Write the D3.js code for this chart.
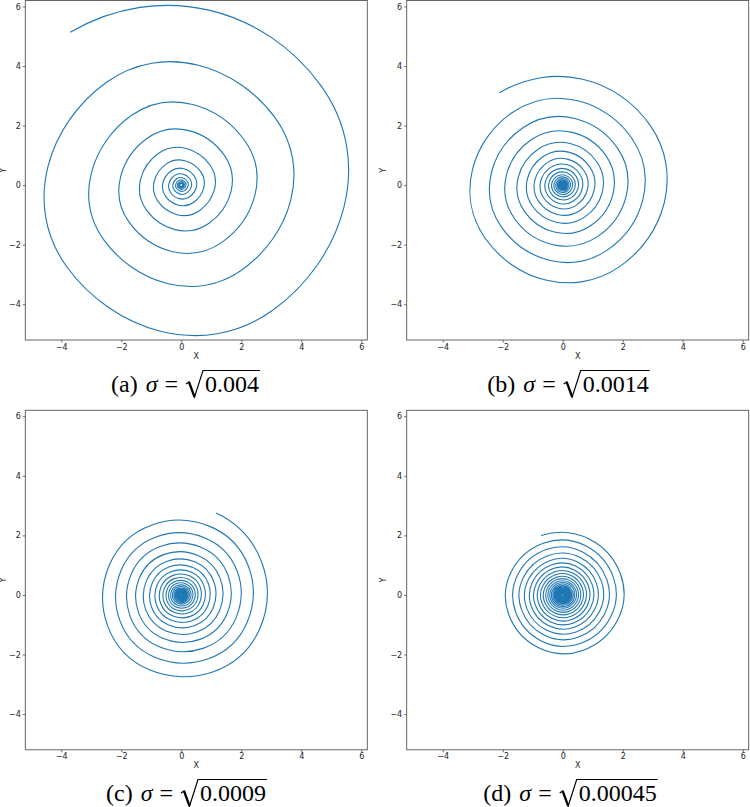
<!DOCTYPE html>
<html>
<head>
<meta charset="utf-8">
<script src="https://cdnjs.cloudflare.com/ajax/libs/d3/7.8.5/d3.min.js"></script>
<style>
body { margin: 0; background: #fff; }
</style>
</head>
<body>
<script>
// axis ticks and limits shared by all four panels
var tickValues = [-4, -2, 0, 2, 4, 6];
var axisDomain = [-5.2, 6.2];

var panelLetters = ["a", "b", "c", "d"];
var sigmaSq = ["0.004", "0.0014", "0.0009", "0.00045"];

// angle (deg) of the outer end of each spiral, then the radius read every quarter turn (clockwise, inward)
var startAngles = [125.8, 124.2, 67.1, 109.8];

var radiiA = [6.33, 5.73, 5.19, 4.70, 4.26, 3.86, 3.49, 3.17, 2.87, 2.59, 2.35, 2.14,
  1.94, 1.75, 1.58, 1.43, 1.31, 1.17, 1.05, 0.95, 0.87, 0.79, 0.71, 0.645,
  0.585, 0.53, 0.48, 0.435, 0.395, 0.355, 0.32, 0.29, 0.265, 0.24, 0.215, 0.195,
  0.178, 0.16, 0.145, 0.132, 0.12, 0.108, 0.098, 0.089, 0.08, 0.072, 0.066, 0.06,
  0.054, 0.049, 0.044, 0.04];

var radiiB = [3.75, 3.54, 3.33, 3.14, 2.96, 2.79, 2.64, 2.48, 2.34, 2.21, 2.08, 1.96,
  1.85, 1.75, 1.65, 1.55, 1.46, 1.38, 1.30, 1.23, 1.16, 1.09, 1.03, 0.97,
  0.914, 0.862, 0.812, 0.766, 0.722, 0.681, 0.642, 0.605, 0.571, 0.538, 0.507, 0.478,
  0.451, 0.425, 0.401, 0.378, 0.356, 0.336, 0.317, 0.299, 0.282, 0.266, 0.25, 0.236,
  0.223, 0.21, 0.198, 0.187, 0.176, 0.166, 0.156, 0.147, 0.139, 0.131, 0.124, 0.117,
  0.11, 0.104, 0.098, 0.092, 0.087, 0.082, 0.077, 0.073, 0.069, 0.065, 0.061, 0.058,
  0.054, 0.051, 0.048, 0.045, 0.043, 0.04, 0.038, 0.036, 0.034, 0.032, 0.03, 0.028,
  0.027, 0.025, 0.024, 0.022, 0.021, 0.02];

var radiiC = [2.985, 2.85, 2.73, 2.60, 2.49, 2.38, 2.27, 2.17, 2.07, 1.98, 1.89, 1.81,
  1.73, 1.65, 1.58, 1.51, 1.44, 1.38, 1.315, 1.257, 1.20, 1.147, 1.096, 1.048,
  1.0, 0.957, 0.914, 0.873, 0.834, 0.797, 0.762, 0.728, 0.696, 0.665, 0.635, 0.607,
  0.58, 0.554, 0.529, 0.506, 0.483, 0.462, 0.441, 0.422, 0.403, 0.385, 0.368, 0.351,
  0.336, 0.321, 0.306, 0.293, 0.28, 0.267, 0.255, 0.244, 0.233, 0.223, 0.213, 0.203,
  0.194, 0.186, 0.177, 0.169, 0.162, 0.155, 0.148, 0.141, 0.135, 0.129, 0.123, 0.118,
  0.112, 0.107, 0.103, 0.098, 0.094, 0.09, 0.086, 0.082, 0.078, 0.075, 0.071, 0.068,
  0.065, 0.062, 0.059, 0.057, 0.054, 0.052, 0.05, 0.047, 0.045, 0.043, 0.041, 0.04,
  0.038, 0.036, 0.035, 0.033, 0.032, 0.03, 0.029, 0.028, 0.026, 0.025];

var radiiD = [2.12, 2.05, 1.98, 1.915, 1.85, 1.79, 1.73, 1.67, 1.62, 1.56, 1.51, 1.46,
  1.41, 1.37, 1.32, 1.28, 1.23, 1.19, 1.15, 1.115, 1.078, 1.042, 1.007, 0.974,
  0.941, 0.91, 0.88, 0.85, 0.822, 0.795, 0.768, 0.743, 0.718, 0.694, 0.671, 0.649,
  0.627, 0.606, 0.586, 0.567, 0.548, 0.53, 0.512, 0.495, 0.479, 0.463, 0.447, 0.432,
  0.418, 0.404, 0.391, 0.378, 0.365, 0.353, 0.341, 0.33, 0.319, 0.308, 0.298, 0.288,
  0.279, 0.269, 0.26, 0.252, 0.243, 0.235, 0.227, 0.22, 0.212, 0.205, 0.198, 0.192,
  0.185, 0.179, 0.173, 0.168, 0.162, 0.157, 0.151, 0.146, 0.141, 0.137, 0.132, 0.128,
  0.124, 0.119, 0.115, 0.112, 0.108, 0.104, 0.101, 0.098, 0.094, 0.091, 0.088, 0.085,
  0.082, 0.08, 0.077, 0.074, 0.072, 0.069, 0.067, 0.065, 0.063, 0.061, 0.059, 0.057,
  0.055, 0.053, 0.051, 0.05, 0.048, 0.046, 0.045, 0.043, 0.042, 0.04, 0.039, 0.038,
  0.036, 0.035, 0.034, 0.033, 0.032, 0.031, 0.03];

var allRadii = [radiiA, radiiB, radiiC, radiiD];

// layout
var frameW = 342, frameH = 339.5;
var frames = [
  {left: 25.3, top: 0.5, capX: 185, capY: 392},
  {left: 406.7, top: 0.5, capX: 568, capY: 392},
  {left: 25.3, top: 410.3, capX: 186, capY: 801},
  {left: 406.7, top: 410.3, capX: 570, capY: 801}
];

// cardinal-style curve (tension tuned for quarter-turn spacing) whose end
// tangents mirror their neighbours instead of collapsing to zero
function spiralCurve(context) {
  var pts;
  function dist(a, b) {
    return Math.sqrt((b[0] - a[0]) * (b[0] - a[0]) + (b[1] - a[1]) * (b[1] - a[1]));
  }
  function mirror(t, a, b, s) {
    var l = dist(a, b) || 1, ux = (b[0] - a[0]) / l, uy = (b[1] - a[1]) / l;
    var dot = t[0] * ux + t[1] * uy;
    return [(2 * dot * ux - t[0]) * s, (2 * dot * uy - t[1]) * s];
  }
  return {
    areaStart: function() {},
    areaEnd: function() {},
    lineStart: function() { pts = []; },
    point: function(x, y) { pts.push([+x, +y]); },
    lineEnd: function() {
      var n = pts.length, k = 1.657 / 2, tan = [], i;
      if (!n) return;
      context.moveTo(pts[0][0], pts[0][1]);
      if (n < 3) { if (n === 2) context.lineTo(pts[1][0], pts[1][1]); return; }
      for (i = 1; i < n - 1; i++) {
        tan[i] = [k * (pts[i + 1][0] - pts[i - 1][0]), k * (pts[i + 1][1] - pts[i - 1][1])];
      }
      tan[0] = mirror(tan[1], pts[0], pts[1],
          dist(pts[0], pts[1]) / (dist(pts[1], pts[2]) || 1));
      tan[n - 1] = mirror(tan[n - 2], pts[n - 2], pts[n - 1],
          dist(pts[n - 2], pts[n - 1]) / (dist(pts[n - 3], pts[n - 2]) || 1));
      for (i = 0; i < n - 1; i++) {
        context.bezierCurveTo(
          pts[i][0] + tan[i][0] / 3, pts[i][1] + tan[i][1] / 3,
          pts[i + 1][0] - tan[i + 1][0] / 3, pts[i + 1][1] - tan[i + 1][1] / 3,
          pts[i + 1][0], pts[i + 1][1]);
      }
    }
  };
}

var svg = d3.select("body").append("svg")
    .attr("width", 750)
    .attr("height", 807)
    .style("background", "#fff");

frames.forEach(function(f, i) {
  var g = svg.append("g")
      .attr("transform", "translate(" + f.left + "," + f.top + ")");

  var x = d3.scaleLinear().domain(axisDomain).range([0, frameW]);
  var y = d3.scaleLinear().domain(axisDomain).range([frameH, 0]);

  var xAxis = g.append("g")
      .attr("transform", "translate(0," + frameH + ")")
      .call(d3.axisBottom(x).tickValues(tickValues).tickSize(2.5).tickPadding(1.5).tickSizeOuter(0));
  var yAxis = g.append("g")
      .call(d3.axisLeft(y).tickValues(tickValues).tickSize(2.5).tickPadding(2).tickSizeOuter(0));

  [xAxis, yAxis].forEach(function(a) {
    a.select(".domain").remove();
    a.selectAll("line").attr("stroke", "#444").attr("stroke-width", 0.8);
    a.selectAll("text")
      .attr("fill", "#222")
      .style("font-family", "DejaVu Sans, sans-serif")
      .style("font-size", "8px");
  });

  // spiral points from the read radii
  var pts = allRadii[i].map(function(r, k) {
    var a = (startAngles[i] - 90 * k) * Math.PI / 180;
    return {x: r * Math.cos(a), y: r * Math.sin(a)};
  });

  var line = d3.line()
      .x(function(d) { return x(d.x); })
      .y(function(d) { return y(d.y); })
      .curve(spiralCurve);

  g.append("path")
      .datum(pts)
      .attr("d", line)
      .attr("fill", "none")
      .attr("stroke", "#1f77b4")
      .attr("stroke-width", 1.1);

  g.append("rect")
      .attr("width", frameW)
      .attr("height", frameH)
      .attr("fill", "none")
      .attr("stroke", "#555")
      .attr("stroke-width", 0.9);

  g.append("text")
      .attr("x", frameW / 2)
      .attr("y", frameH + 18.5)
      .attr("text-anchor", "middle")
      .attr("fill", "#222")
      .style("font-family", "DejaVu Sans, sans-serif")
      .style("font-size", "8px")
      .text("X");

  g.append("text")
      .attr("transform", "translate(" + (i % 2 ? -20.5 : -19.5) + "," + (frameH / 2) + ") rotate(-90)")
      .attr("text-anchor", "middle")
      .attr("fill", "#222")
      .style("font-family", "DejaVu Sans, sans-serif")
      .style("font-size", "8px")
      .text("Y");

  // caption: (a) σ = √0.004
  var cap = svg.append("g");
  var cx = 0;
  function part(str, italic) {
    var t = cap.append("text")
        .attr("x", cx)
        .attr("y", 0)
        .attr("fill", "#000")
        .style("font-family", "Liberation Serif, serif")
        .style("font-size", "24px")
        .style("font-style", italic ? "italic" : "normal")
        .text(str);
    cx += t.node().getComputedTextLength();
  }
  part("(" + panelLetters[i] + ")");
  cx += 8;
  part("\u03c3", true);
  cx += 7;
  part("=");
  cx += 7;
  var rx = cx;
  cx += 20;
  part(sigmaSq[i]);
  var endX = cx + 1;

  cap.append("path")
      .attr("d", "M" + (rx + 1) + ",-8 L" + (rx + 4) + ",-10 L" + (rx + 9.5) + ",5 L" + (rx + 18) + ",-21.5 L" + endX + ",-21.5")
      .attr("fill", "none")
      .attr("stroke", "#000")
      .attr("stroke-width", 1.2)
      .attr("stroke-linejoin", "miter");
  cap.append("path")
      .attr("d", "M" + (rx + 4) + ",-10 L" + (rx + 9.5) + ",5")
      .attr("stroke", "#000")
      .attr("stroke-width", 2.2);

  cap.attr("transform", "translate(" + (f.capX - cx / 2) + "," + f.capY + ")");
});
</script>
</body>
</html>
